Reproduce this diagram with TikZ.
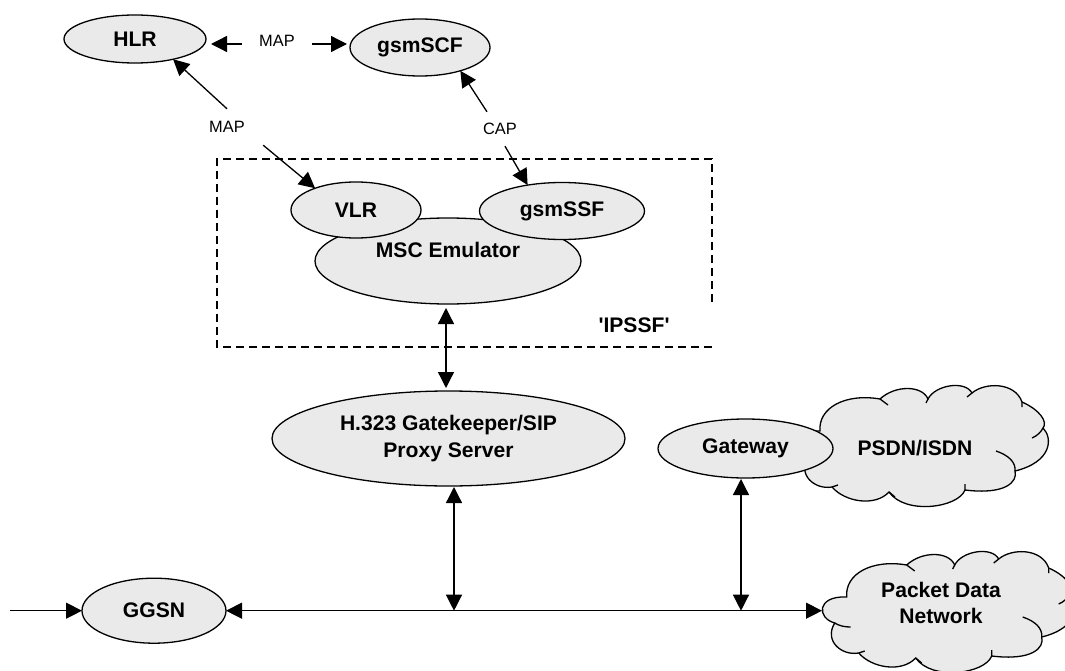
\documentclass[tikz,border=0pt]{standalone}
\usepackage{fontspec}
\setmainfont{Liberation Sans}
\usetikzlibrary{arrows.meta,shapes.geometric}
\definecolor{ovalgray}{HTML}{EAEAEA}
\tikzstyle{oval}=[ellipse,draw,fill=ovalgray,line width=1.3pt,inner sep=0pt,outer sep=0pt,font=\fontsize{21.1}{26.5}\selectfont\bfseries,align=center]
\tikzstyle{boldtxt}=[inner sep=0pt,font=\fontsize{21.1}{26.5}\selectfont\bfseries,align=center]
\tikzstyle{smalltxt}=[inner sep=0pt,minimum width=70pt,minimum height=20pt,font=\fontsize{16.4}{20}\selectfont]
\tikzstyle{link}=[line width=1.3pt,>={Triangle[length=16pt,width=16pt]}]
\tikzset{cloudblob/.pic={
    \draw [fill=ovalgray,line width=1.3pt] (820,431) .. controls (818,408) and (845,393) .. (880,399)
        .. controls (895,385) and (922,385) .. (928,399)
        .. controls (935,385) and (965,380) .. (972,393)
        .. controls (985,382) and (1015,382) .. (1022,402)
        .. controls (1040,410) and (1048,422) .. (1043,428)
        .. controls (1053,438) and (1052,462) .. (1015,471)
        .. controls (1018,482) and (1005,495) .. (965,490)
        .. controls (958,508) and (905,515) .. (889,492)
        .. controls (875,507) and (845,502) .. (832,487)
        .. controls (815,490) and (797,475) .. (808,457)
        .. controls (790,452) and (790,430) .. (819,431) -- cycle;
    \draw [line width=1.3pt] (880,399) -- (888,405) (928,399) -- (926,403) (972,393) -- (967,397) (1022,402) -- (1022,407);
    \draw [line width=1.3pt] (1043,428) .. controls (1041,432) and (1037,436) .. (1032,438);
    \draw [line width=1.3pt] (1015,471) .. controls (1016,462) and (1008,455) .. (996,451);
    \draw [line width=1.3pt] (965,490) -- (965,484) (889,492) -- (895,497) (832,487) -- (838,485);
    \draw [line width=1.3pt] (808,457) .. controls (813,460) and (818,461) .. (824,461);
}}

\begin{document}
\begin{tikzpicture}[x=1pt,y=-1pt]
    \useasboundingbox (0,0) rectangle (1065,671);
    \clip (0,0) rectangle (1065,671);
    \pic at (0,0) {cloudblob};
    \pic at (26.7,166) {cloudblob};
    \draw [line width=2pt,dash pattern=on 8pt off 5pt] (712,302) -- (712,159) -- (217,159) -- (217,347) -- (712,347);
    \node [oval,minimum width=142pt,minimum height=48pt] (hlr) at (135,39) {HLR};
    \node [oval,minimum width=140pt,minimum height=57pt] (gsmscf) at (420,47.5) {gsmSCF};
    \node [oval,minimum width=266pt,minimum height=86pt] (msc) at (448,261) {};
    \node [oval,minimum width=130pt,minimum height=56pt] (vlr) at (356,210) {VLR};
    \node [oval,minimum width=165pt,minimum height=57pt] (gsmssf) at (562,211) {gsmSSF};
    \node [boldtxt] (msclabel) at (448,250) {MSC Emulator};
    \node [boldtxt] (ipssf) at (634,325) {\textquotesingle IPSSF\textquotesingle};
    \node [oval,minimum width=353pt,minimum height=95pt] (h323) at (448.5,438.5) {H.323 Gatekeeper/SIP\\Proxy Server};
    \node [boldtxt] (psdn) at (915,448) {PSDN/ISDN};
    \node [oval,minimum width=175pt,minimum height=59pt] (gateway) at (745.5,448.5) {Gateway};
    \node [boldtxt] (pdn) at (941,603) {Packet Data\\Network};
    \node [oval,minimum width=144pt,minimum height=65pt] (ggsn) at (154,610.7) {GGSN};
    \node [smalltxt] (maptop) at (277,41) {MAP};
    \node [smalltxt,minimum width=72pt,minimum height=36pt] (mapleft) at (227,127) {MAP};
    \node [smalltxt,minimum width=40pt,minimum height=34pt] (capmid) at (500,129) {CAP};
    \coordinate (entry) at (10,610.7);
    \coordinate (pdnedge) at (822,610.7);
    \coordinate (busa) at (454,610.7);
    \coordinate (busb) at (741,610.7);
    \draw [link,->,shorten >=5pt] ([yshift=-3pt]maptop.west) -- ([yshift=-5pt]hlr.east);
    \draw [link,->,shorten >=3pt] ([yshift=-3pt]maptop.east) -- ([yshift=3.5pt]gsmscf.west);
    \draw [link,->] (mapleft.north) -- (hlr.-28);
    \draw [link,->] (mapleft.south east) -- (vlr.152);
    \draw [link,->] ([xshift=-13pt]capmid.north) -- (gsmscf.-30);
    \draw [link,->] ([xshift=5pt]capmid.south) -- (gsmssf.143);
    \draw [link,<->,shorten <=4pt,shorten >=3pt] ([xshift=-2pt]msc.south) -- ([xshift=-2.5pt]h323.north);
    \draw [link,<->,shorten <=1pt] (h323.south -| busa) -- (busa);
    \draw [link,<->,shorten <=1pt] (gateway.south -| busb) -- (busb);
    \draw [link,->] (entry) -- (ggsn.west);
    \draw [link,<->] (ggsn.east) -- (pdnedge);
\end{tikzpicture}
\end{document}
